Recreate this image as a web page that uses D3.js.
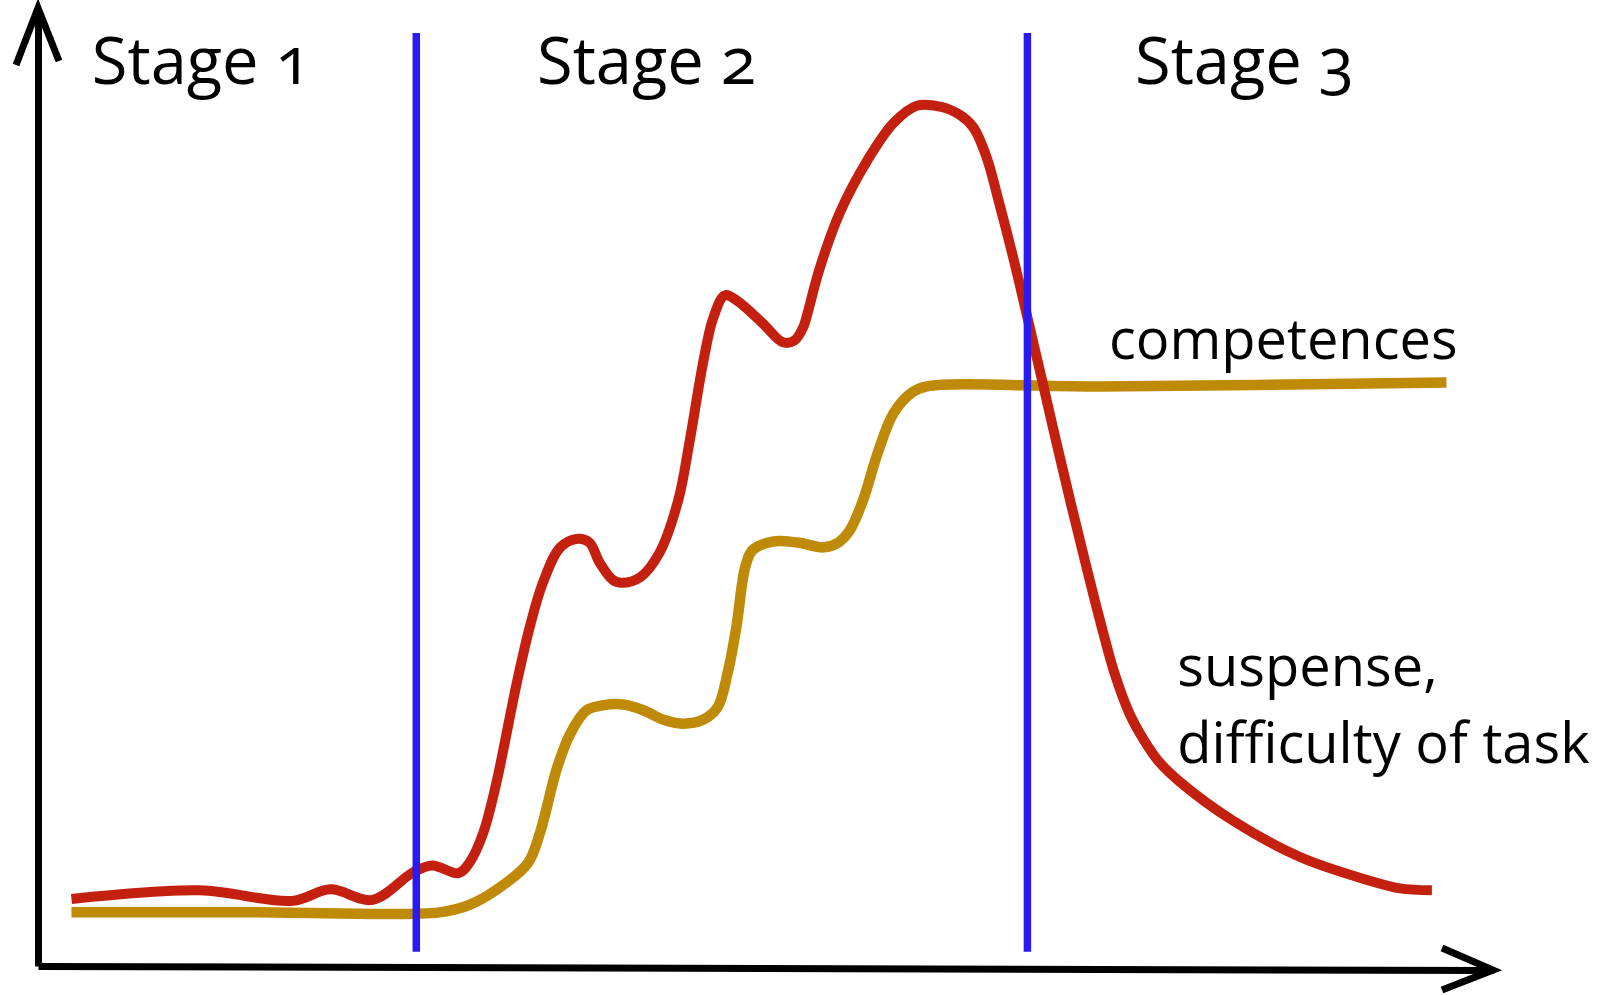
<!DOCTYPE html>
<html>
<head>
<meta charset="utf-8">
<script src="https://cdn.jsdelivr.net/npm/d3@7"></script>
<style>
  body { margin: 0; background: white; }
  svg text { font-family: "Open Sans", sans-serif; fill: black; font-feature-settings: "onum"; }
</style>
</head>
<body>
<div id="plot"></div>
<script>
// abstract units: x = time (0..100), y = level (0..100)
let suspenseX = [2.3, 11.1, 17.5, 20.1, 23.0, 25.8, 27.1, 28.9, 29.7, 30.6,
  31.5, 32.9, 33.8, 34.7, 35.9, 37.1, 37.9, 38.6, 39.5, 40.1,
  41.4, 42.7, 44.0, 44.8, 45.7, 46.4, 47.2, 48.0, 49.8, 51.2,
  52.0, 52.6, 52.9, 53.7, 55.1, 57.0, 58.8, 60.4, 62.0, 63.4,
  64.3, 65.2, 66.0, 67.0, 68.0, 69.0, 70.0, 71.0, 72.0, 73.0,
  74.0, 75.0, 76.0, 77.0, 78.5, 82.1, 86.7, 91.3, 93.6, 95.8];
let suspenseY = [7.0, 7.9, 6.8, 8.0, 6.9, 9.8, 10.5, 9.7, 10.9, 13.9,
  19.1, 29.5, 35.4, 40.0, 43.7, 44.6, 44.2, 42.1, 40.3, 40.0,
  40.6, 43.1, 48.6, 54.9, 62.9, 67.6, 70.0, 69.5, 67.1, 65.1,
  65.3, 66.7, 68.2, 72.7, 78.6, 84.1, 88.0, 89.8, 89.7, 88.8,
  87.5, 84.4, 80.0, 74.1, 67.7, 61.2, 54.6, 48.2, 42.0, 36.0,
  30.5, 26.4, 23.6, 21.4, 19.2, 15.2, 11.4, 9.0, 8.1, 7.9];

let competenceX = [2.3, 15.0, 27.6, 29.7, 32.2, 33.7, 34.5, 35.7, 36.6, 37.7, 38.8, 40.2, 41.6, 43.0, 44.3, 45.7, 46.7, 47.4, 48.0, 48.6,
  49.1, 50.5, 52.2, 54.0, 55.0, 55.8, 56.7, 57.7, 58.8, 60.1, 61.1, 73.0, 96.8];
let competenceY = [5.6, 5.6, 5.6, 6.4, 8.7, 10.8, 13.9, 20.8, 24.3, 26.7, 27.2, 27.3, 26.7, 25.7, 25.3, 25.7, 27.0, 30.6, 35.4, 41.6,
  43.4, 44.3, 44.2, 43.7, 44.2, 45.5, 48.6, 53.5, 57.7, 59.9, 60.5, 60.5, 60.9];

let stageBounds = [26.0, 68.0];
let stageLabels = ['Stage 1', 'Stage 2', 'Stage 3'];
let stageLabelX = [3.7, 34.3, 75.4];
let seriesLabels = [['competences'], ['suspense,', 'difficulty of task']];
let seriesLabelX = [73.6, 78.3];
let seriesLabelY = [63.4, 29.2];

let width = 1601, height = 995;
let x = d3.scaleLinear().domain([0, 100]).range([38, 1493]);
let y = d3.scaleLinear().domain([0, 100]).range([966, 8]);

let svg = d3.select('#plot').append('svg').attr('width', width).attr('height', height);

let line = d3.line().x(d => x(d[0])).y(d => y(d[1])).curve(d3.curveCatmullRom.alpha(0.5));

svg.append('path')
  .datum(competenceX.map((v, i) => [v, competenceY[i]]))
  .attr('d', line)
  .attr('fill', 'none').attr('stroke', '#bf8a08').attr('stroke-width', 10.5);

svg.append('path')
  .datum(suspenseX.map((v, i) => [v, suspenseY[i]]))
  .attr('d', line)
  .attr('fill', 'none').attr('stroke', '#c4200f').attr('stroke-width', 10)
  .attr('stroke-linejoin', 'round');

// stage borders
svg.selectAll('line.stage').data(stageBounds).enter().append('line')
  .attr('class', 'stage')
  .attr('x1', d => x(d)).attr('x2', d => x(d))
  .attr('y1', y(97.4)).attr('y2', y(1.5))
  .attr('stroke', '#2a1af2').attr('stroke-width', 7.5);

// axes (no ticks), x axis drawn very slightly tilted like the sketch
let gx = svg.append('g').attr('transform', `translate(0,${y(0)}) rotate(0.16, ${x(0)}, 0)`)
  .call(d3.axisBottom(x).tickValues([]).tickSizeOuter(0));
let gy = svg.append('g').attr('transform', `translate(${x(0)},0)`)
  .call(d3.axisLeft(y).tickValues([]).tickSizeOuter(0));
svg.selectAll('.domain').attr('stroke', 'black').attr('stroke-width', 7);

let arrow = d3.line();
svg.append('path')
  .attr('d', arrow([[x(0) - 22, y(100) + 57], [x(0), y(100)], [x(0) + 21, y(100) + 53]]))
  .attr('fill', 'none').attr('stroke', 'black').attr('stroke-width', 7);
svg.append('path')
  .attr('d', arrow([[x(100) - 51, y(0) - 18], [x(100), y(0) + 4], [x(100) - 51, y(0) + 24]]))
  .attr('fill', 'none').attr('stroke', 'black').attr('stroke-width', 7);

svg.selectAll('text.stage').data(stageLabels).enter().append('text')
  .attr('class', 'stage')
  .attr('x', (d, i) => x(stageLabelX[i]))
  .attr('y', 84)
  .style('font-size', '65px')
  .text(d => d);

seriesLabels.forEach((lines, i) => {
  let t = svg.append('text')
    .attr('x', x(seriesLabelX[i]))
    .attr('y', y(seriesLabelY[i]))
    .style('font-size', '56px');
  lines.forEach((s, j) => {
    t.append('tspan').attr('x', x(seriesLabelX[i])).attr('dy', j ? 77 : 0).text(s);
  });
});
</script>
</body>
</html>
